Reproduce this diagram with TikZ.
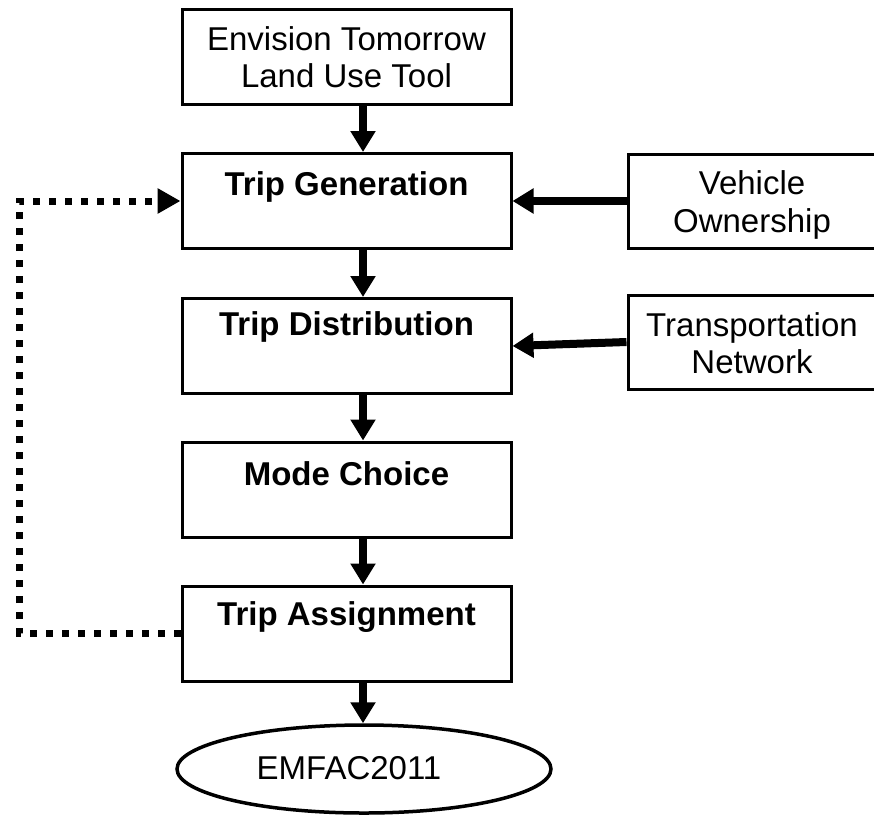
\documentclass[tikz,border=0pt]{standalone}
\usepackage{fontspec}
\setmainfont{Liberation Sans}
\usetikzlibrary{arrows.meta,shapes.geometric,calc}
\newcommand\diagfont{\fontsize{33pt}{37.5pt}\selectfont}
\newcommand\diagbold{\fontsize{33pt}{37.5pt}\selectfont\bfseries}
\begin{document}
\begin{tikzpicture}[x=1pt,y=-1pt,
  box/.style={draw,line width=3pt,minimum width=329pt,minimum height=95pt,inner sep=0pt},
  sidebox/.style={draw,line width=3pt,minimum width=248pt,minimum height=94pt,inner sep=0pt},
  sidetext/.style={align=center,font=\diagfont,inner sep=0pt},
  steplabel/.style={font=\diagbold,inner sep=0pt},
  flow/.style={line width=8pt,-{Triangle[length=21pt,width=24pt]}},
  feedback/.style={line width=7pt,dash pattern=on 7pt off 9pt,-{Triangle[length=23pt,width=24pt]}}
]
\useasboundingbox (0,0) rectangle (874,819);

% main chain of model steps
\node[box,align=center,font=\diagfont] (land) at (346.5,57) {Envision Tomorrow\\Land Use Tool};
\node[box] (gen) at (346.5,201) {};
\node[box] (dist) at (346.5,346) {};
\node[box] (mode) at (346.5,489.5) {};
\node[box] (assign) at (346.5,633.5) {};

\node[steplabel] (genlbl) at ([yshift=14pt]gen.center) {Trip Generation};
\node[steplabel] (distlbl) at ([yshift=19pt]dist.center) {Trip Distribution};
\node[steplabel] (modelbl) at ([yshift=16pt]mode.center) {Mode Choice};
\node[steplabel] (assignlbl) at ([yshift=16pt]assign.center) {Trip Assignment};

% side inputs
\node[sidebox] (veh) at (752,201) {};
\node[sidetext] (vehlbl) at ([yshift=-4pt]veh.center) {Vehicle\\Ownership};
\node[sidebox] (net) at (752,342) {};
\node[sidetext] (netlbl) at ([yshift=-1pt]net.center) {Transportation\\Network};

% emissions model
\node[draw,ellipse,line width=3.5pt,minimum width=374pt,minimum height=88pt,inner sep=0pt] (emfac) at (364,769) {};
\node[font=\diagfont,inner sep=0pt] (emfaclbl) at (349,768) {EMFAC2011};

% connectors
\coordinate (ax) at (363,0);
\coordinate (loop) at (19,0);
\draw[flow] (land.south -| ax) -- (gen.north -| ax);
\draw[flow] (gen.south -| ax) -- (dist.north -| ax);
\draw[flow] (dist.south -| ax) -- (mode.north -| ax);
\draw[flow] (mode.south -| ax) -- (assign.north -| ax);
\draw[flow] (assign.south -| ax) -- (emfac.north -| ax);
\draw[flow] (veh.west) -- (gen.east);
\draw[flow] (net.west) -- (dist.east);
\draw[feedback] (assign.west) -| (loop |- gen.west) -- (gen.west);
\end{tikzpicture}
\end{document}
